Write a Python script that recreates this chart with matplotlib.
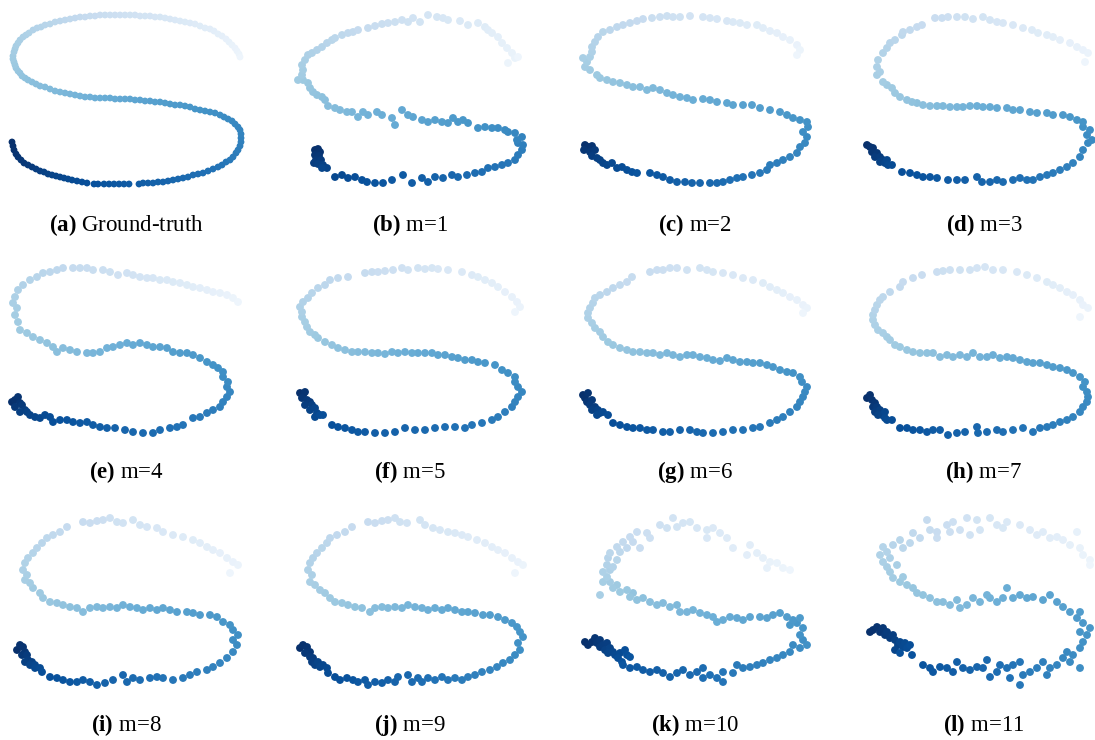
import numpy as np
import matplotlib
matplotlib.use("Agg")
import matplotlib.pyplot as plt

plt.rcParams['font.family'] = ['Liberation Serif', 'DejaVu Serif']
plt.rcParams['mathtext.fontset'] = 'custom'
plt.rcParams['mathtext.rm'] = 'Liberation Serif'
plt.rcParams['mathtext.bf'] = 'Liberation Serif:bold'

# points (local pixel units, ordered from the dark end to the light end)
gt_pts = [(12,142),(13,146),(14,150),(16,154),(18,157),(21,160),(24,163),(28,165),(32,167),(36,169),(40,171),(44,172),(48,174),(52,175),(56,176),(60,177),(64,178),(68,179),(72,180),(77,181),(82,182),(87,183),(94,184),(98,184),(104,184),(109,184),(114,184),(119,184),(124,184),(129,184),(139,184),(143,183),(148,183),(153,183),(158,182),(163,182),(168,181),(173,180),(178,179),(183,178),(188,177),(193,175),(198,174),(203,173),(208,171),(213,169),(218,167),(222,165),(226,162),(230,160),(233,157),(236,153),(238,150),(240,146),(241,142),(241,138),(241,134),(240,130),(238,127),(235,124),(232,121),(228,119),(224,117),(220,115),(215,113),(210,112),(205,111),(200,110),(195,109),(190,107),(185,106),(180,105),(175,105),(170,104),(165,103),(160,102),(155,102),(150,101),(145,101),(140,100),(135,100),(130,99),(125,99),(120,99),(115,99),(110,98),(105,98),(100,98),(95,98),(90,97),(85,97),(80,96),(75,95),(70,94),(65,93),(60,92),(55,91),(50,89),(45,87),(40,86),(36,84),(32,82),(28,80),(25,78),(22,76),(20,73),(18,71),(16,68),(15,65),(14,62),(13,59),(13,56),(14,52),(15,49),(16,46),(18,43),(20,40),(23,37),(26,35),(29,33),(33,30),(37,28),(41,27),(45,25),(50,24),(55,22),(60,21),(65,20),(70,19),(75,18),(80,17),(85,17),(90,16),(95,16),(100,15),(105,15),(110,15),(115,15),(120,15),(125,15),(130,15),(135,15),(140,16),(145,16),(150,16),(155,17),(160,17),(165,18),(170,19),(175,20),(180,21),(185,22),(190,23),(195,24),(200,26),(205,28),(210,29),(214,31),(218,34),(222,36),(226,39),(229,42),(232,45),(235,48),(237,51),(239,54),(240,57)]

m1_pts = [(30,150),(33,149),(35,152),(30,155),(34,156),(31,160),(36,160),(29,163),(33,164),(38,165),(42,168),(37,168),(50,177),(57,175),(63,178),(70,177),(77,180),(82,182),(90,183),(98,183),(107,180),(118,175),(127,183),(137,178),(143,182),(150,177),(158,178),(167,175),(173,177),(182,175),(190,173),(197,172),(203,168),(210,167),(217,165),(223,163),(230,160),(233,155),(237,150),(238,145),(233,143),(237,137),(232,140),(230,133),(223,132),(220,130),(213,128),(207,128),(200,127),(193,128),(183,123),(178,120),(173,122),(168,118),(163,123),(157,122),(150,120),(143,122),(137,120),(128,117),(123,115),(117,110),(110,125),(107,118),(97,115),(92,112),(83,115),(78,112),(73,117),(67,112),(62,112),(55,110),(50,108),(43,106),(40,100),(37,97),(32,95),(28,92),(25,88),(23,83),(18,80),(13,80),(17,75),(18,70),(17,65),(20,60),(23,55),(27,53),(32,50),(37,47),(42,43),(47,40),(50,38),(57,35),(63,33),(68,32),(73,30),(83,28),(90,26),(97,24),(103,23),(110,22),(117,20),(123,22),(128,18),(135,22),(143,15),(152,17),(158,18),(163,20),(175,21),(183,25),(193,23),(200,27),(203,30),(207,33),(213,37),(217,43),(222,48),(227,53),(230,58),(223,63),(233,57)]

m2_pts = [(15,145),(18,147),(22,146),(14,150),(20,152),(25,150),(22,156),(27,158),(30,160),(33,163),(37,165),(42,163),(47,168),(52,167),(57,170),(62,172),(67,173),(80,173),(87,175),(93,177),(100,180),(107,182),(115,182),(122,183),(130,183),(140,183),(147,183),(153,182),(160,180),(167,178),(173,177),(182,175),(190,173),(197,170),(200,165),(207,163),(213,160),(220,157),(227,153),(230,147),(235,143),(237,137),(233,132),(238,127),(237,122),(230,120),(223,118),(217,115),(210,112),(200,110),(190,108),(182,105),(173,105),(163,105),(157,103),(147,102),(140,100),(133,99),(123,100),(117,98),(110,97),(103,95),(97,93),(90,90),(83,88),(77,90),(70,87),(63,87),(57,85),(50,83),(43,82),(37,80),(30,78),(27,75),(20,70),(15,67),(17,62),(13,58),(20,57),(22,52),(22,47),(25,42),(28,37),(33,32),(40,30),(47,27),(53,25),(60,23),(67,21),(73,19),(82,18),(90,17),(97,16),(103,17),(110,17),(120,16),(133,17),(140,18),(147,19),(157,21),(163,22),(170,23),(177,25),(187,25),(193,28),(200,31),(207,33),(213,37),(220,40),(227,45),(230,50),(227,55)]

m3_pts = [(17,145),(20,147),(23,148),(22,152),(27,153),(25,157),(30,157),(33,160),(30,162),(35,163),(37,160),(38,165),(42,165),(52,172),(60,173),(67,175),(73,177),(80,177),(87,178),(98,180),(107,180),(115,180),(127,177),(132,182),(140,182),(147,180),(153,182),(163,180),(170,178),(177,180),(183,180),(190,177),(197,175),(203,173),(210,170),(217,167),(223,163),(230,157),(233,150),(238,143),(242,140),(237,135),(240,130),(233,127),(233,122),(227,120),(220,117),(213,115),(203,115),(197,113),(187,113),(180,112),(170,110),(163,110),(157,108),(147,108),(140,107),(133,107),(127,106),(120,106),(113,107),(107,107),(100,107),(93,106),(87,106),(80,106),(73,105),(67,103),(62,102),(57,100),(50,97),(45,93),(42,88),(37,85),(33,82),(27,75),(30,72),(27,67),(28,60),(33,53),(37,48),(40,43),(45,40),(52,35),(53,32),(60,30),(67,27),(72,25),(85,18),(92,18),(98,17),(107,17),(115,17),(123,19),(133,17),(140,20),(147,22),(153,23),(163,25),(173,28),(182,30),(188,33),(197,35),(203,37),(210,40),(220,43),(227,47),(233,50),(238,53),(235,62)]

m4_pts = [(12,147),(15,145),(18,142),(20,148),(15,152),(22,150),(25,155),(20,157),(27,157),(30,160),(35,162),(40,163),(45,160),(50,162),(53,167),(60,165),(67,165),(73,167),(80,168),(87,167),(93,170),(100,172),(107,173),(115,173),(125,175),(133,177),(143,178),(153,178),(160,175),(170,173),(177,172),(183,170),(193,163),(200,162),(207,158),(213,155),(220,152),(223,147),(227,142),(230,137),(227,132),(228,127),(223,122),(223,117),(218,113),(213,110),(207,107),(200,103),(193,100),(187,98),(180,98),(173,97),(167,93),(160,92),(153,92),(147,90),(140,88),(133,90),(127,88),(120,90),(113,92),(107,93),(100,97),(93,98),(87,98),(77,97),(70,95),(63,93),(57,97),(53,92),(47,88),(40,85),(33,82),(27,78),(20,75),(18,67),(15,60),(17,53),(13,48),(15,42),(18,35),(23,30),(30,25),(37,22),(43,18),(50,17),(57,15),(63,13),(73,13),(80,13),(87,13),(93,15),(103,15),(110,17),(118,20),(127,18),(133,20),(140,22),(147,23),(153,23),(160,25),(167,25),(173,27),(180,28),(187,30),(193,32),(200,33),(207,35),(213,37),(220,38),(227,40),(233,43),(238,47)]

m5_pts = [(15,138),(18,140),(20,137),(17,143),(22,145),(25,147),(20,150),(27,150),(25,155),(30,153),(32,158),(30,162),(35,160),(38,160),(47,170),(53,172),(60,173),(67,175),(73,177),(80,177),(90,178),(100,178),(110,177),(120,173),(130,175),(140,175),(150,173),(160,172),(170,172),(180,173),(187,170),(197,168),(207,165),(213,162),(220,157),(227,152),(230,147),(233,142),(237,137),(233,132),(230,127),(230,122),(223,118),(217,115),(210,110),(200,108),(193,107),(187,105),(180,105),(173,103),(167,102),(160,100),(153,100),(147,98),(140,98),(133,98),(127,98),(120,97),(113,98),(107,97),(100,99),(93,98),(87,98),(80,97),(73,97),(67,97),(60,95),(53,93),(47,90),(40,87),(33,83),(30,80),(25,77),(22,72),(20,67),(17,62),(17,57),(15,52),(18,47),(23,43),(27,38),(33,33),(40,30),(45,25),(53,23),(63,22),(80,18),(87,17),(93,17),(100,16),(108,15),(117,13),(123,15),(133,13),(140,14),(147,13),(153,14),(163,15),(177,17),(187,20),(193,22),(200,25),(207,28),(213,32),(220,37),(227,42),(232,47),(235,52),(230,57)]

m6_pts = [(13,140),(15,143),(18,138),(17,147),(22,145),(20,150),(25,152),(22,155),(28,155),(30,158),(27,160),(33,157),(38,160),(43,168),(50,170),(57,172),(63,173),(70,173),(77,175),(83,175),(93,177),(100,177),(110,175),(120,175),(127,177),(133,178),(143,178),(153,177),(163,175),(173,175),(183,173),(190,172),(200,168),(207,165),(213,162),(220,157),(227,152),(230,147),(233,142),(235,137),(237,132),(232,127),(230,122),(223,118),(217,117),(210,115),(203,112),(197,110),(190,108),(183,108),(177,107),(170,107),(163,105),(157,103),(150,106),(143,105),(137,103),(130,102),(123,100),(117,100),(110,102),(103,100),(97,98),(90,100),(83,98),(77,98),(70,97),(63,97),(57,95),(50,93),(43,90),(38,87),(33,82),(30,77),(25,73),(22,68),(18,63),(18,58),(20,53),(23,48),(25,43),(30,40),(37,37),(43,33),(50,30),(57,27),(62,22),(80,17),(87,15),(93,15),(100,13),(107,13),(117,15),(130,13),(137,15),(143,17),(153,18),(163,20),(173,23),(183,25),(193,28),(200,32),(207,35),(213,38),(220,42),(227,45),(233,50),(237,53),(233,58)]

m7_pts = [(17,143),(20,140),(22,145),(25,148),(23,152),(27,152),(25,157),(30,155),(28,160),(32,160),(35,157),(35,163),(37,165),(42,165),(50,173),(57,173),(63,175),(70,175),(77,177),(83,175),(90,175),(98,180),(107,178),(115,177),(127,172),(128,178),(137,177),(147,175),(153,177),(163,175),(173,173),(183,177),(190,173),(197,172),(203,170),(210,167),(217,165),(223,162),(230,157),(233,152),(237,147),(238,142),(237,137),(233,132),(235,127),(230,122),(223,118),(217,115),(210,113),(203,112),(197,110),(190,108),(183,108),(177,107),(170,105),(163,103),(157,102),(150,103),(143,100),(137,102),(130,102),(123,98),(117,102),(110,100),(103,102),(97,100),(90,102),(83,98),(77,98),(70,98),(63,97),(57,95),(50,92),(45,90),(40,85),(37,82),(33,78),(28,75),(25,70),(23,65),(23,60),(25,55),(27,50),(30,45),(33,42),(40,37),(50,32),(53,27),(63,23),(72,20),(87,17),(93,16),(100,15),(110,15),(120,15),(127,13),(135,12),(143,15),(153,15),(167,17),(177,20),(187,23),(197,27),(203,30),(210,33),(217,37),(223,40),(230,45),(233,50),(238,53),(230,62)]

m8_pts = [(17,145),(20,140),(23,142),(25,147),(22,150),(27,150),(28,155),(25,157),(32,157),(30,160),(35,160),(35,163),(40,163),(42,167),(50,172),(57,173),(63,175),(70,177),(77,177),(83,175),(90,177),(97,180),(105,178),(113,175),(123,170),(127,177),(133,173),(140,175),(150,173),(157,172),(163,173),(173,175),(183,173),(190,170),(197,167),(207,165),(213,162),(220,158),(227,153),(233,147),(237,140),(233,135),(238,130),(233,125),(230,120),(223,117),(217,112),(210,110),(200,110),(193,108),(187,107),(177,107),(170,105),(163,103),(157,105),(150,103),(143,105),(137,103),(130,102),(123,100),(117,103),(110,102),(103,103),(97,102),(90,103),(83,107),(77,103),(70,102),(63,100),(57,98),(50,97),(43,93),(40,88),(33,83),(30,78),(25,75),(27,70),(23,65),(25,58),(28,53),(33,48),(37,43),(42,38),(47,33),(53,30),(60,27),(67,22),(83,17),(90,18),(97,16),(103,15),(110,13),(117,17),(123,18),(133,15),(140,20),(147,22),(157,23),(163,27),(173,30),(183,32),(193,35),(200,38),(207,42),(213,45),(220,48),(227,53),(233,57),(238,60),(230,68)]

m9_pts = [(15,143),(18,140),(22,142),(25,147),(20,148),(25,152),(28,153),(27,157),(30,160),(33,157),(35,162),(38,160),(42,163),(43,168),(50,172),(55,175),(62,173),(68,175),(73,177),(80,175),(83,180),(90,177),(97,178),(103,175),(110,177),(113,172),(123,170),(127,177),(133,173),(137,177),(143,173),(150,175),(157,172),(163,175),(170,173),(177,175),(183,172),(190,170),(197,167),(205,165),(212,162),(218,158),(225,155),(230,150),(235,145),(233,138),(238,132),(235,127),(232,122),(227,118),(220,115),(213,112),(205,110),(198,110),(190,108),(183,107),(177,107),(170,105),(163,103),(157,105),(150,103),(143,105),(137,103),(130,102),(123,100),(117,103),(110,102),(103,103),(97,102),(90,103),(85,107),(77,103),(70,102),(63,100),(57,98),(50,97),(45,93),(40,88),(35,85),(30,80),(25,77),(27,70),(23,65),(25,58),(28,53),(32,48),(37,43),(42,38),(45,33),(52,30),(60,27),(67,22),(83,17),(90,18),(97,16),(103,15),(110,13),(115,17),(122,18),(135,15),(140,20),(148,23),(155,25),(163,27),(170,28),(177,30),(183,32),(192,35),(200,38),(207,42),(213,45),(220,48),(227,53),(233,57),(238,60),(230,68)]

m10_pts = [(15,137),(18,140),(22,137),(25,133),(27,138),(30,135),(30,142),(33,140),(37,138),(35,145),(40,143),(38,148),(43,147),(45,150),(50,148),(48,153),(55,145),(57,150),(52,157),(60,152),(53,160),(60,163),(67,162),(73,165),(80,167),(87,165),(93,168),(100,172),(107,168),(113,165),(120,170),(127,167),(133,163),(133,173),(140,170),(147,173),(153,177),(153,167),(163,168),(167,160),(173,163),(180,162),(187,160),(193,158),(200,155),(207,153),(213,150),(220,147),(223,140),(230,143),(233,135),(237,140),(230,130),(233,123),(227,118),(220,120),(223,115),(230,113),(217,112),(210,108),(203,110),(197,113),(190,112),(180,112),(173,115),(167,113),(160,112),(153,115),(147,117),(143,112),(137,110),(130,108),(123,105),(117,107),(110,107),(107,100),(100,102),(93,98),(87,100),(80,97),(73,93),(67,95),(63,88),(60,92),(57,85),(50,87),(47,80),(43,83),(40,77),(33,77),(30,90),(37,72),(33,67),(40,65),(37,60),(43,62),(38,53),(47,55),(40,48),(50,47),(47,42),(57,43),(53,37),(63,37),(60,32),(70,43),(67,27),(77,28),(80,33),(90,20),(97,23),(103,13),(107,22),(113,18),(120,17),(127,23),(137,25),(137,33),(143,23),(150,28),(157,33),(163,43),(180,40),(177,50),(187,48),(193,53),(197,63),(200,57),(207,58),(213,63),(220,65)]

m11_pts = [(20,127),(23,125),(27,122),(30,127),(33,123),(35,130),(37,127),(40,133),(43,130),(45,135),(48,140),(45,145),(50,137),(53,142),(55,138),(57,143),(60,140),(50,148),(62,150),(73,160),(80,163),(83,167),(90,162),(97,163),(103,167),(107,157),(113,163),(120,165),(127,162),(133,163),(137,155),(140,172),(147,167),(150,160),(157,163),(160,173),(163,160),(170,157),(170,180),(173,170),(180,167),(187,163),(193,157),(197,170),(200,163),(207,160),(213,153),(217,147),(220,157),(223,150),(230,163),(230,143),(233,137),(237,130),(230,127),(240,123),(233,118),(227,113),(230,107),(220,107),(213,102),(207,97),(200,90),(193,95),(183,92),(177,93),(170,90),(163,93),(157,83),(153,93),(147,97),(140,93),(137,90),(130,97),(123,93),(117,100),(110,103),(107,95),(100,100),(93,97),(87,97),(80,93),(73,90),(67,88),(63,83),(57,80),(50,77),(53,72),(43,73),(40,67),(37,62),(47,60),(33,57),(40,53),(30,50),(37,47),(33,42),(43,40),(50,35),(53,43),(60,38),(63,28),(70,33),(77,15),(80,25),(87,27),(87,33),(97,20),(100,27),(103,17),(110,25),(117,13),(120,30),(127,15),(130,25),(140,13),(147,20),(153,23),(157,17),(170,20),(180,25),(187,30),(193,27),(200,33),(207,32),(213,35),(220,40),(227,27),(230,43),(233,50),(240,55),(240,60)]

panel_data = [gt_pts, m1_pts, m2_pts, m3_pts, m4_pts, m5_pts,
              m6_pts, m7_pts, m8_pts, m9_pts, m10_pts, m11_pts]
letters = ['a', 'b', 'c', 'd', 'e', 'f', 'g', 'h', 'i', 'j', 'k', 'l']
names = ['Ground-truth', 'm=1', 'm=2', 'm=3', 'm=4', 'm=5',
         'm=6', 'm=7', 'm=8', 'm=9', 'm=10', 'm=11']

W, H = 1095, 740
col_x = [0, 285, 570, 850]
row_y = [0, 255, 505]
cap_x = [126, 410, 695, 984]
cap_y = [225, 472, 725]
PW, PH = 250, 195

fig = plt.figure(figsize=(W / 100, H / 100), dpi=100)
cmap = plt.get_cmap('Blues')

for k, pts in enumerate(panel_data):
    r, c = divmod(k, 4)
    ax = fig.add_axes([col_x[c] / W, 1 - (row_y[r] + PH) / H, PW / W, PH / H])
    p = np.array(pts, dtype=float)
    colors = cmap(np.linspace(1.0, 0.05, len(p)))
    size = 24 if k == 0 else 32
    ax.scatter(p[:, 0], p[:, 1], c=colors, s=size, linewidths=0)
    ax.set_xlim(0, PW)
    ax.set_ylim(PH, 0)
    ax.axis('off')
    fig.text(cap_x[c] / W, 1 - cap_y[r] / H,
             r'$\mathbf{(%s)}$ %s' % (letters[k], names[k]),
             ha='center', va='center', fontsize=16.5)

fig.savefig('out.png', dpi=100)
